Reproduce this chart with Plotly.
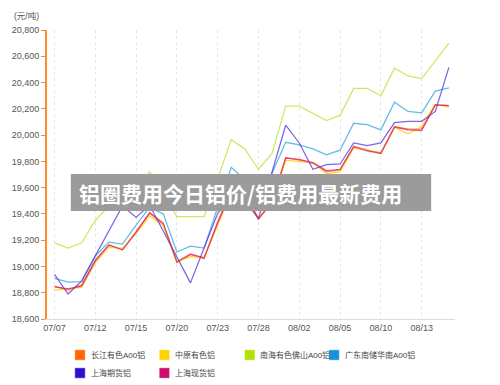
import plotly.graph_objects as go

dates = ["07/07", "07/08", "07/11", "07/12", "07/13", "07/14", "07/15", "07/18", "07/19", "07/20",
         "07/21", "07/22", "07/23", "07/26", "07/27", "07/28", "07/29", "08/01", "08/02", "08/03",
         "08/04", "08/05", "08/08", "08/09", "08/10", "08/11", "08/12", "08/13", "08/14", "08/15"]
tick_labels = ["07/07", "07/12", "07/15", "07/20", "07/23", "07/28", "08/02", "08/05", "08/10", "08/13"]

changjiang = [18850, 18820, 18860, 19050, 19160, 19130, 19265, 19405, 19320, 19030,
              19090, 19060, 19340, 19580, 19560, 19365, 19495, 19830, 19810, 19785,
              19720, 19735, 19915, 19885, 19865, 20065, 20045, 20045, 20230, 20225]
zhongyuan = [18820, 18830, 18840, 19030, 19145, 19140, 19250, 19385, 19310, 19035,
             19075, 19070, 19320, 19560, 19540, 19370, 19480, 19810, 19800, 19790,
             19705, 19720, 19905, 19890, 19860, 20060, 20010, 20065, 20235, 20210]
nanhai = [19180, 19140, 19180, 19350, 19460, 19460, 19590, 19720, 19560, 19380,
          19380, 19380, 19670, 19965, 19895, 19740, 19860, 20220, 20220, 20165,
          20110, 20150, 20355, 20355, 20300, 20510, 20450, 20430, 20565, 20700]
guangdong = [18910, 18880, 18885, 19080, 19185, 19170, 19315, 19450, 19400, 19110,
             19155, 19140, 19450, 19755, 19660, 19480, 19710, 19945, 19925, 19895,
             19850, 19885, 20090, 20080, 20040, 20250, 20180, 20170, 20335, 20360]
shfe = [18940, 18790, 18890, 19080, 19280, 19460, 19375, 19465, 19270, 19075,
        18875, 19140, 19405, 19520, 19500, 19365, 19720, 20075, 19940, 19740,
        19775, 19780, 19940, 19920, 19940, 20095, 20105, 20105, 20180, 20515]
shspot = [18845, 18830, 18850, 19040, 19165, 19125, 19260, 19410, 19330, 19035,
          19095, 19065, 19330, 19570, 19550, 19360, 19490, 19825, 19815, 19790,
          19730, 19740, 19910, 19880, 19860, 20060, 20040, 20035, 20230, 20225]

series_names = ["长江有色A00铝", "中原有色铝", "南海有色佛山A00铝", "广东南储华南A00铝", "上海期货铝", "上海现货铝"]
series_values = [changjiang, zhongyuan, nanhai, guangdong, shfe, shspot]
legend_colors = ["#ff6600", "#ffd200", "#b2e000", "#1a92d6", "#2c10d0", "#cc0a6e"]
line_colors = ["rgba(255,80,40,0.75)", "rgba(255,205,0,0.8)", "rgba(190,228,60,0.8)",
               "rgba(60,170,225,0.8)", "rgba(80,50,220,0.75)", "rgba(215,20,100,0.7)"]

FONT = "Liberation Sans, Noto Sans CJK SC, sans-serif"
W, H = 500, 385
ML, MR, MT, MB = 44, 45, 30, 66
PW, PH = W - ML - MR, H - MT - MB

fig = go.Figure()
for name, vals, col in zip(series_names, series_values, line_colors):
    fig.add_trace(go.Scatter(x=dates, y=vals, name=name, mode="lines",
                             line=dict(color=col, width=1.25), showlegend=False))

def px_x(x):
    return (x - ML) / PW

def px_y(y):
    return (H - MB - y) / PH

shapes = []
annotations = []

# banner overlay
shapes.append(dict(type="rect", xref="paper", yref="paper",
                   x0=px_x(68), x1=px_x(431), y0=px_y(211), y1=px_y(174),
                   fillcolor="#9b9b9b", line=dict(width=0), layer="above"))
annotations.append(dict(text="<b>铝圈费用今日铝价/铝费用最新费用</b>", xref="paper", yref="paper",
                        x=px_x(74), y=px_y(192.5), xanchor="left", yanchor="middle",
                        showarrow=False,
                        font=dict(family="Noto Sans CJK SC, sans-serif", size=21, color="white")))

# unit label
annotations.append(dict(text="(元/吨)", xref="paper", yref="paper", x=px_x(38), y=px_y(16),
                        xanchor="right", yanchor="middle", showarrow=False,
                        font=dict(family=FONT, size=8.5, color="#555")))

# legend (manual, two rows)
leg_x = [72, 157, 243, 328, 72, 157]
leg_y = [355, 355, 355, 355, 373, 373]
for name, col, lx, ly in zip(series_names, legend_colors, leg_x, leg_y):
    shapes.append(dict(type="rect", xref="paper", yref="paper",
                       x0=px_x(lx), x1=px_x(lx + 10.5), y0=px_y(ly + 5.2), y1=px_y(ly - 5.2),
                       fillcolor=col, line=dict(width=0.8, color="rgba(255,255,255,0.6)")))
    annotations.append(dict(text=name, xref="paper", yref="paper", x=px_x(lx + 14), y=px_y(ly),
                            xanchor="left", yanchor="middle", showarrow=False,
                            font=dict(family=FONT, size=8, color="#444")))

fig.update_layout(
    width=W, height=H,
    margin=dict(l=ML, r=MR, t=MT, b=MB),
    paper_bgcolor="white", plot_bgcolor="white",
    font=dict(family=FONT, size=9, color="#555"),
    shapes=shapes, annotations=annotations,
    showlegend=False,
)
fig.update_xaxes(type="category", categoryorder="array", categoryarray=dates,
                 range=[-0.55, 29.45], tickvals=tick_labels, ticktext=tick_labels,
                 showgrid=True, gridcolor="#e6e6e6", griddash="dot", gridwidth=1,
                 showline=True, linecolor="#dcdcdc", linewidth=1, ticks="",
                 tickfont=dict(size=9, color="#555"), zeroline=False)
fig.update_yaxes(range=[18600, 20800], dtick=200, tick0=18600, tickformat=",",
                 showgrid=False, zeroline=False,
                 showline=True, linecolor="#ff8a2a", linewidth=2,
                 ticks="outside", ticklen=4, tickcolor="#ff8a2a", tickwidth=1,
                 tickfont=dict(size=9, color="#555"))

fig.write_html("out.html", config={"displayModeBar": False},
               post_script="document.body.style.margin='0';document.body.style.padding='0';")
